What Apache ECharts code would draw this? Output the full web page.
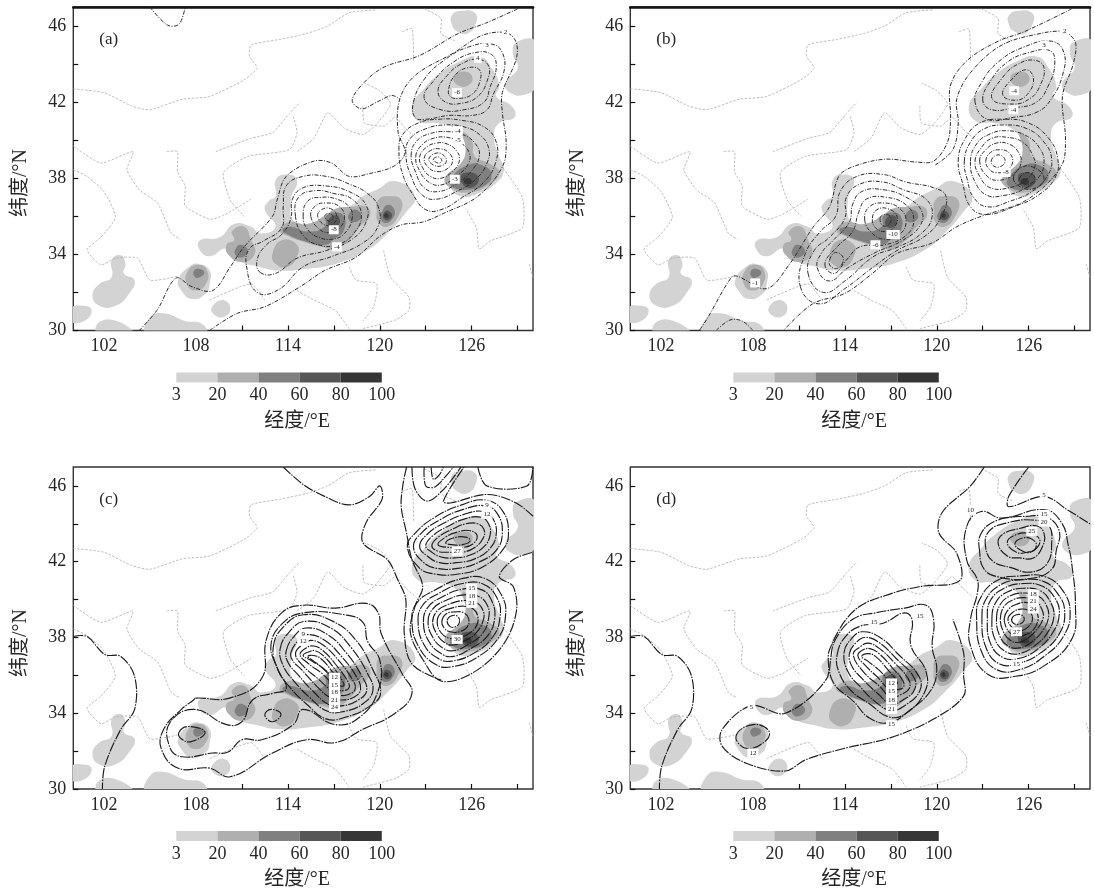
<!DOCTYPE html>
<html><head><meta charset="utf-8">
<style>html,body{margin:0;background:#fff}#c{width:1094px;height:892px;filter:blur(.45px)}</style>
<script src="https://cdn.jsdelivr.net/npm/echarts@6/dist/echarts.min.js"></script></head><body><div id="c"></div>
<script>
const lonTicks=[102,105,108,111,114,117,120,123,126,129], lonLabels=[102,108,114,120,126];
const latTicks=[30,32,34,36,38,40,42,44,46], latLabels=[30,34,38,42,46];
const barLabels=['3','20','40','60','80','100'], barColors=['#d3d3d3','#afafaf','#808080','#565656','#363636'];
const panelTags=['(a)','(b)','(c)','(d)'];
// rainfall shading (lon,lat)
const shade1=[
[[122.1,41.8],[122.9,42.7],[123.9,43.5],[125.1,44.1],[126.5,44.4],[127.3,43.8],[127.8,42.85],[127.6,42.3],[128.6,41.8],[128.8,41.2],[127.8,40.9],[127.45,40.2],[127.8,39.15],[128.1,38.45],[127.6,37.75],[126.4,37.2],[125.3,37.05],[124.6,37.6],[124.8,38.3],[125.7,39.15],[125.5,40],[124.8,40.65],[123.7,40.9],[122.55,41]],
[[128.9,45.15],[130.2,45.15],[130.2,42.9],[129.5,42.4],[128.5,42.5],[128.2,43],[129,43.8],[128.7,44.5]],
[[124.7,46.55],[125.3,46.8],[126.2,46.7],[126.3,46.2],[125.7,45.6],[125,45.75],[124.7,46.1]],
[[108.2,34.3],[108.3,34.75],[109.55,34.9],[110.5,35.6],[111.6,35.45],[112.2,35.1],[113.2,35.45],[112.5,36.35],[112.75,36.8],[113.2,37.05],[113.2,37.9],[113.9,38.2],[114.6,37.9],[114.2,36.85],[114.45,35.7],[115.7,35.6],[116.3,36],[118,36.5],[118.9,37.05],[119.8,37.4],[121,37.85],[122.3,37.05],[121.65,36.15],[120.5,35.1],[119.15,34.2],[117.1,33.5],[115.25,33.25],[113.45,33.15],[112.1,33.35],[110.7,33.7],[110,34.3],[108.9,33.9]],
[[106.85,32.65],[107.55,33.35],[108.2,33.5],[108.9,33.15],[108.9,32.45],[108.65,31.95],[107.75,31.65],[107.05,32.1]],
[[102.5,33.7],[103.1,33.95],[103.4,33.5],[103.3,33],[104,32.65],[103.65,31.95],[102.75,31.3],[101.7,31.3],[101.25,31.85],[101.7,32.45],[102.5,32.8]],
[[99.8,31.15],[100.7,31.3],[101.2,31.05],[100.7,30.5],[99.8,30.5]],
[[109.1,31.3],[109.8,31.6],[110.25,31.15],[109.8,30.7],[109.1,30.9]],
[[101.6,29.8],[101.7,30.45],[103,30.45],[103.9,29.8]],
[[104.8,29.8],[105,30.7],[105.9,30.9],[107.3,30.5],[108.4,30.35],[108.65,29.8]]];
const shade2=[
[[124.8,43.3],[125.4,43.6],[126,43.4],[125.9,42.95],[125.2,42.85]],
[[125.4,40.4],[126,40],[126.2,39.15],[127.1,38.8],[127.8,38.3],[127.1,37.65],[125.75,37.25],[124.6,37.5],[124.25,38],[125.3,38.8],[125.6,39.5]],
[[113.45,35.3],[114.1,35.7],[115.25,35.6],[116.4,36],[117.1,36.4],[118.2,36.5],[119.15,36.5],[119.35,36],[118.7,35.45],[118,34.75],[117.1,34.3],[116.2,34.4],[115.05,34.65],[113.9,35]],
[[113,34.05],[113.65,34.75],[114.6,34.5],[114.6,33.9],[114,33.35],[113.2,33.5]],
[[119.9,36.85],[120.5,37.05],[121.4,36.85],[121.2,36],[120.5,35.45],[119.9,35.7],[119.8,36.3]],
[[110.35,35.2],[111.15,35.45],[111.6,34.75],[111.85,34.05],[111.05,33.6],[110.15,33.95],[110,34.5],[110.5,34.75]],
[[107.5,33.15],[108.2,33.45],[108.75,33.1],[108.65,32.45],[108,32.1],[107.4,32.45]]];
const shade3=[
[[113.65,35.3],[114.2,35.45],[115.25,35.2],[116.4,35.45],[116.5,36],[117.1,36.2],[117.65,36],[117.65,35.25],[117.1,34.85],[116.4,34.5],[115.25,34.65],[114.1,35]],
[[118,36.15],[118.45,36.35],[118.8,36],[118.45,35.7],[118,35.8]],
[[120.15,36.25],[120.5,36.6],[120.95,36.35],[120.85,35.9],[120.4,35.65],[120.05,35.9]],
[[124.6,37.9],[125.75,38.7],[126.9,38.6],[127.3,38.1],[126.9,37.65],[125.75,37.4],[124.85,37.5]],
[[110.6,34.3],[110.95,34.5],[111.4,34.2],[111.05,33.85],[110.6,33.95]],
[[107.85,33.1],[108.2,33.25],[108.55,33.05],[108.25,32.8],[107.95,32.8]]];
const shade4=[
[[116.65,35.8],[117.1,36.05],[117.4,35.8],[117.2,35.45],[116.75,35.45]],
[[120.25,36.15],[120.5,36.3],[120.8,36.05],[120.55,35.8],[120.25,35.9]],
[[125.3,38.1],[125.75,38.3],[126.4,38.1],[126.3,37.65],[125.6,37.55]]];
const shade5=[[[125.5,37.9],[125.85,38],[126,37.75],[125.6,37.7]],[[120.3,36.1],[120.5,36.15],[120.55,35.95],[120.35,35.95]]];
// province and coast boundaries (lon,lat)
const borders=[
[[100,42.7],[102,42.5],[103.8,41.8],[105,41.6],[107.1,42.15],[108.9,42.3],[111.2,43.2],[112,43.8],[111.5,44.4],[111.6,45],[113.5,45.3],[115.2,45.6],[116.6,46],[118,46.7],[119.8,46.85]],
[[100,39.7],[101.8,38.8],[103.9,39.4],[103.5,38.45],[104.3,37.4],[105.5,36.7],[106.4,35.1],[107,34.8]],
[[100,38.45],[100.9,38.1],[102,37.3],[102.75,35.95],[101.8,34.9],[100.9,34.25],[101.8,33.45],[102.75,33.8],[104.2,33.8],[105,32.65],[106.8,32.85]],
[[106.1,39.4],[106.8,39.4],[106.8,38.35],[107.3,37.6],[107.3,36.55],[108.9,35.85],[109.8,36.05],[111.6,36.9]],
[[114.35,41.25],[114.6,40.4],[114.1,39.5],[111.4,39.15],[109.8,38.3],[110.25,36.85],[111.15,36]],
[[109.3,39.4],[111.6,40.1],[113,40.4],[114.1,41.4],[114.8,42]],
[[114.6,39.4],[115.7,40.1],[116.6,41.45],[117.65,40.65],[118.9,40.3],[119.8,40.85],[120.7,41.9],[120,42.6],[119,43]],
[[127.9,38.7],[129.3,37],[129.3,35.4],[127.2,34.7],[126.5,34.3],[126.3,35.4],[125.6,36.4]],
[[121.45,45.7],[122.1,45.85],[122.2,44.1]],[[122.9,46.9],[124,46.4],[124,45.6],[125,45.2]],
[[120.25,34.2],[120.7,32.8],[121.9,31.75],[121.9,31.05],[121,30.55],[118.9,30.1]],
[[118,33.35],[118.45,32.65],[119.8,32.45],[119.6,31.25],[118.9,30.5]],
[[114.6,32.1],[115.7,31.6],[117.1,31.05],[118,30.1]],
[[108.9,31.6],[111.6,32.45],[112.5,31.6]],[[129.75,33.5],[130,32.8]],
[[118.9,41.8],[119,40.9],[120.3,40.75],[121,41.2],[121.7,40.6],[122.4,40.1]]];
// contours, panel (a)
const openA=[
[[104.3,30],[105.45,31.05],[106.7,32.75],[107.75,32.3],[109.1,32.1],[110.25,33.35],[111.15,34.4],[113,36],[113.3,36.85],[113.9,38.1],[115.7,38.9],[116.85,38.8],[118,38.1],[119.35,38.25],[120.95,38.65],[121.65,39.35],[121.2,40.4],[121.3,42.15],[122.3,43.4],[124.85,44.6],[126.65,45.5],[128.25,45.65],[128.9,45.15],[128.9,44.25],[128,42.5],[128,41.45],[128.25,39.85],[128,38.6],[126.4,37.05],[124.15,36.15],[122.8,35.7],[121.4,35.55],[120,34.95],[118.45,33.85],[116.4,33.15],[114.8,32.3],[112.5,31.25],[110.7,30.9],[108.9,30]],
[[129,46.9],[126.9,46.15],[125.1,45.6],[122.6,44.45],[120.3,43.85],[119,43.05],[118.2,42.1],[118.8,41.65],[119.8,42],[120.8,42.35],[121.3,42.15]],
[[105,47],[106.15,46.05],[106.9,46.1],[107.3,47]]];
const ringsA=[
[[121.25,39.5],[121.5,40.3],[122.5,40.9],[123.8,41.1],[125.3,41.05],[126.8,40.7],[127.6,39.9],[127.55,38.8],[126.8,37.8],[125.4,37],[124,36.35],[123,36.35],[122.2,37.1],[121.5,38.2]],
[[121.7,39.3],[122,40.1],[123,40.6],[124.2,40.8],[125.5,40.7],[126.5,40.3],[127.1,39.6],[127,38.8],[126.2,37.9],[125,37.3],[123.7,36.9],[122.8,37.1],[122.1,38]],
[[122.05,39.2],[122.4,39.95],[123.3,40.35],[124.4,40.45],[125.4,40.3],[126.2,39.85],[126.5,39.2],[126,38.4],[125,37.7],[123.8,37.3],[122.9,37.5],[122.35,38.3]],
[[122.35,39.15],[122.75,39.75],[123.5,40.1],[124.4,40.15],[125.2,39.9],[125.8,39.4],[125.8,38.8],[125,38.1],[124,37.65],[123.2,37.8],[122.6,38.4]],
[[122.6,39.1],[123,39.6],[123.7,39.85],[124.4,39.8],[125,39.45],[125.2,38.95],[124.8,38.4],[124,38],[123.3,38.1],[122.8,38.55]],
[[122.9,39.05],[123.3,39.45],[123.9,39.55],[124.5,39.35],[124.75,38.9],[124.4,38.5],[123.8,38.35],[123.2,38.55]],
[[123.2,39],[123.6,39.3],[124.1,39.25],[124.35,38.9],[124,38.65],[123.5,38.7]],
[[123.5,39],[123.85,39.12],[124.05,38.9],[123.8,38.8]],
[[122.2,42],[122.9,43.2],[124.2,44.2],[125.8,44.9],[127.3,45.05],[128,44.6],[128.1,43.6],[127.4,42.4],[127,41.6],[126,41.3],[124.5,41.3],[123,41.1],[122.3,41.2]],
[[122.9,42.2],[123.6,43.2],[124.8,44.1],[126.2,44.6],[127.3,44.5],[127.6,43.8],[127.2,42.8],[126.8,42],[125.5,41.6],[124,41.6]],
[[123.8,42.6],[124.4,43.4],[125.3,44],[126.4,44.25],[127.1,43.9],[127,43.1],[126.4,42.3],[125.4,41.95],[124.3,42]],
[[124.5,42.7],[124.9,43.4],[125.7,43.8],[126.5,43.7],[126.5,43],[126,42.4],[125.2,42.2],[124.6,42.3]],
[[111.3,33.4],[112,32],[113.4,32.15],[115,33.35],[116.9,33.9],[118.9,34.6],[119.9,35.5],[119.9,36.5],[119.2,37.2],[118,37.7],[116.5,38.1],[115,38.1],[113.9,37.6],[113.7,36.5],[113.6,35.4],[112.4,34.7],[111.5,34.3]],
[[112.2,33.05],[113.2,33],[114.6,33.8],[116.5,34.2],[118.2,34.8],[119.1,35.7],[119.1,36.6],[118,37.3],[116.4,37.6],[115,37.5],[114.3,36.9],[114.2,35.9],[113.6,35.05],[112.6,34.5],[112,33.7]],
[[114.5,36],[114.7,37],[115.8,37.35],[117,37.2],[118.2,36.9],[118.8,36.1],[118.3,35.1],[117.2,34.5],[116,34.5],[115,35]],
[[115,36],[115.3,36.8],[116.2,37],[117.2,36.9],[118,36.5],[118.2,35.9],[117.7,35.1],[116.9,34.8],[116,34.9],[115.3,35.3]],
[[115.5,36],[115.8,36.55],[116.5,36.7],[117.3,36.55],[117.7,36],[117.4,35.4],[116.8,35.15],[116.1,35.3]],
[[115.95,36],[116.2,36.35],[116.8,36.4],[117.2,36],[116.95,35.6],[116.4,35.55]],
[[116.4,36],[116.7,36.15],[116.95,35.95],[116.7,35.75]]];
const labelsA=[[125.05,42.5,'-6'],[117,35.3,'-8'],[117.2,34.4,'-4'],[125.1,40.5,'-4'],[125.1,40,'-5'],[124.9,37.95,'-3'],[128.2,45.7,'2'],[127,45,'3'],[126.4,44.3,'4']];
// contours, panel (b)
const openB=[
[[128.8,46.9],[125.7,45.7],[124,45.2],[122,44.2],[120.9,42.9],[120.9,41.1],[120.7,39.9],[119.8,38.9],[118.7,38.85],[116.6,39],[114.5,38.6],[113.6,38.1],[113,36.5],[111.9,35.4],[110.4,33.5],[108.9,32.2],[107,32.85],[106.6,32.8],[105,30.6],[104.5,30]],
[[128.35,45.75],[127,45.65],[124.25,45],[122.2,43.55],[121.3,42.15],[121.4,40.9],[121.05,39.5],[119.9,38.7]],
[[128.35,45.75],[129.05,45.15],[128.9,44],[128.2,42.3],[128.4,40],[128.1,38.6],[125.85,36.85],[122.9,36],[121.3,35.45],[119.7,34.6],[117.4,34.05],[115.8,33],[114,31.95],[111.9,31.4],[110,30]],
[[105.6,30],[106.5,30.55],[107.3,30.5],[108,30]]];
const ringsB=[
[[111.1,32.3],[112.3,31.4],[114,32.2],[115.8,33.3],[117.4,34.2],[119.3,35],[120.3,36],[120.6,37.05],[119.8,37.5],[118,37.8],[116.5,38.2],[114.8,38.1],[113.7,37.3],[113.4,36],[112.4,35.2],[111.4,34]],
[[111.6,33],[112.6,32],[114,32.6],[115.9,33.9],[117.5,34.4],[119,35.1],[119.7,36],[119.3,36.9],[117.8,37.4],[116.5,37.8],[115,37.7],[114.1,37],[114,35.9],[113,34.9],[112,34.2]],
[[112.2,33.3],[113,32.6],[114.2,33.3],[116,34.1],[117.7,34.7],[118.9,35.5],[119,36.3],[118,37],[116.5,37.4],[115.1,37.3],[114.5,36.6],[114.3,35.7],[113.2,34.7],[112.5,34.1]],
[[112.7,33.5],[113.3,33],[114.1,33.7],[115,34.4],[116.6,34.5],[118,35],[118.5,35.8],[118,36.6],[116.7,37],[115.4,36.9],[114.9,36.2],[114.5,35.2],[113.5,34.4]],
[[115.3,35.8],[115.6,36.5],[116.6,36.7],[117.6,36.4],[118,35.7],[117.5,35],[116.6,34.8],[115.8,35.1]],
[[115.8,35.9],[116.1,36.35],[116.8,36.4],[117.4,36],[117.2,35.4],[116.6,35.2],[116,35.4]],
[[116.3,35.9],[116.6,36.1],[117,35.95],[116.9,35.6],[116.5,35.5]],
[[113,33.7],[113.4,34.1],[113.9,33.8],[113.6,33.3],[113.1,33.35]],
[[121.4,38.9],[121.8,40],[122.8,40.9],[124.4,41.1],[126,40.9],[127.3,40.1],[127.9,39],[127.7,38],[126.6,37.1],[125,36.5],[123.2,36.1],[122.2,36.5],[121.7,37.7]],
[[121.8,38.9],[122.2,39.9],[123.1,40.6],[124.4,40.8],[125.9,40.6],[127,39.9],[127.5,39],[127.2,38.1],[126.2,37.3],[124.8,36.8],[123.3,36.5],[122.4,37],[122,37.9]],
[[122.2,38.9],[122.6,39.8],[123.4,40.3],[124.5,40.5],[125.8,40.25],[126.7,39.6],[127,38.8],[126.6,38],[125.6,37.4],[124.4,37.1],[123.3,37.1],[122.5,37.8]],
[[122.5,38.9],[122.9,39.6],[123.6,40.1],[124.6,40.15],[125.6,39.9],[126.2,39.3],[126.4,38.6],[125.8,37.9],[124.7,37.5],[123.5,37.5],[122.8,38.1]],
[[122.8,38.9],[123.2,39.5],[123.9,39.85],[124.7,39.8],[125.3,39.4],[125.5,38.8],[125,38.2],[124.1,37.9],[123.3,38.1]],
[[123.2,38.9],[123.5,39.35],[124.1,39.5],[124.7,39.35],[124.95,38.85],[124.5,38.4],[123.8,38.3],[123.4,38.5]],
[[123.55,38.9],[123.85,39.2],[124.3,39.15],[124.45,38.85],[124.1,38.6],[123.7,38.65]],
[[125,38],[125.6,38.6],[126.5,38.5],[127,38],[126.5,37.5],[125.6,37.5]],
[[125.4,38],[125.9,38.3],[126.4,38.05],[126.1,37.7],[125.6,37.75]],
[[122.5,42],[122.9,43],[124,44.1],[125.7,44.9],[127.5,45.2],[128.3,44.6],[128.2,43.4],[127.5,42.2],[126.6,41.5],[125,41.2],[123.3,41.1]],
[[123,42.1],[123.5,43.1],[124.6,44.1],[126,44.6],[127.4,44.7],[127.7,44],[127.3,42.9],[126.5,42],[125,41.7],[123.6,41.6]],
[[123.6,42.2],[124.3,43.3],[125.3,44],[126.4,44.2],[127,43.8],[126.7,42.8],[126.1,42.2],[125,41.9]],
[[124.3,42.4],[124.9,43.2],[125.8,43.7],[126.3,43.3],[126,42.5],[125.2,42.1]]];
const labelsB=[[117.15,35.05,'-10'],[116,34.5,'-6'],[125.05,42.6,'-4'],[108.15,32.5,'-1'],[125,41.6,'-4'],[124.5,38.3,'-8'],[128.35,45.75,'2'],[127,45,'3']];
// contours, panel (c)
const westLine=[[100,38.05],[100.9,38.05],[102.05,37.1],[103.1,37],[104,35.95],[104,34.2],[103.1,33.15],[102.05,31.2],[101.9,30]];
const openC=[westLine,
[[113.7,47],[115.05,46.05],[116.4,45.45],[118,45],[119.35,45.45],[120,46],[120.15,45.3],[119.1,44.05],[118.9,43],[120.5,42.1],[121.2,41],[121.7,40],[121.6,38.2],[122.1,36.6],[124,35.75]],
[[121.75,47],[121.5,46],[121.4,44.9],[121.75,43.5],[122.1,42.1],[122.8,40.7],[122.3,39.65],[122,38.25],[122.8,36.85],[124,35.7],[126,36.1],[128,37.55],[128.9,39.3],[128.7,40.7],[127.8,41.2],[128.7,42.1],[130,42.5]],
[[130,44.4],[128.9,45.1],[127,45.55],[124.6,45.1],[124.15,45.2],[125.5,47]],
[[122.1,47],[122.3,45.85],[123.1,45.2],[124.2,45.85],[125.3,47]],
[[122.9,47],[123,46],[123.6,45.95],[124.4,46.6],[124.8,47]],
[[123.35,47],[123.5,46.35],[123.9,46.6],[124.15,47]],
[[126.4,47],[127,46],[129.6,46],[130,47]]];
const ringsC=[
[[108,34.8],[110.2,34.8],[112.3,35.85],[112.6,37.9],[113.6,39.3],[114.95,39.7],[117.1,39.55],[119.1,39.8],[119.9,39.3],[120.1,38.2],[121.45,36.1],[122.1,35.05],[121,34],[118.9,33.15],[117.1,32.45],[115.25,32.6],[113,31.9],[110.25,30.65],[108.9,31.1],[106.85,31.1],[105.75,32.1],[105.9,33.15],[107.05,34.2],[107.85,34.7]],
[[107.9,34.2],[106.3,33.5],[106.3,32.2],[107.1,31.7],[109.1,31.9],[110.1,31.95],[111,32.6],[112.3,32.6],[114.35,33.4],[115,34.2],[117.1,33.4],[118.7,33.8],[119.9,35.2],[120,36.8],[119.2,37.8],[118.9,38.8],[117.7,39.2],[115,39.3],[113.6,38.7],[112.9,37.6],[113.3,36.4],[113.9,35.3],[113,35.05],[111.7,34.7],[111,33.55],[110,33.4]],
[[113.05,37.5],[113.7,38.55],[115,39.2],[116.95,38.85],[118.45,37.85],[119.55,36.3],[120.05,35.05],[119.3,34.35],[117.8,33.8],[116.5,33.7],[115.2,34.5],[114.1,35.4],[113.35,36.3]],
[[113.5,37.4],[114.1,38.3],[115.1,38.85],[116.8,38.5],[118.1,37.5],[119.2,36.1],[119.55,35.2],[118.9,34.5],[117.7,34.1],[116.6,34.1],[115.4,34.85],[114.4,35.7],[113.7,36.5]],
[[113.9,37.3],[114.4,38.05],[115.2,38.5],[116.6,38.15],[117.8,37.2],[118.8,36],[119.15,35.2],[118.6,34.7],[117.6,34.4],[116.7,34.45],[115.6,35.2],[114.7,36],[114,36.7]],
[[114.2,37.2],[114.7,37.85],[115.3,38.15],[116.4,37.85],[117.5,37],[118.5,35.9],[118.75,35.25],[118.3,34.85],[117.5,34.7],[116.8,34.8],[115.8,35.5],[114.9,36.3],[114.3,36.8]],
[[114.5,37.15],[115,37.65],[115.5,37.85],[116.3,37.6],[117.3,36.8],[118.2,35.8],[118.4,35.3],[118,35],[117.4,34.95],[116.9,35.15],[116,35.8],[115,36.5]],
[[114.8,37.1],[115.2,37.45],[115.7,37.55],[116.3,37.3],[117.1,36.6],[117.9,35.7],[118,35.35],[117.7,35.2],[117.3,35.25],[116.3,36.05],[115.3,36.65]],
[[115,37.05],[115.4,37.25],[115.8,37.3],[116.3,37.05],[117,36.4],[117.6,35.65],[117.65,35.45],[117.3,35.5],[116.5,36.25],[115.6,36.75]],
[[115.3,37],[115.7,37.05],[116.2,36.85],[116.9,36.2],[117.3,35.7],[116.9,35.9],[116.1,36.5],[115.6,36.8]],
[[112.5,33.9],[112.9,34.2],[113.55,33.95],[113,33.55]],
[[106.9,33],[107.5,33.3],[108.6,33],[107.7,32.5],[107.05,32.65]],
[[121.8,42.8],[122.3,43.5],[123.6,44.35],[125.35,45],[126.9,45.25],[128,44.7],[128.4,43.5],[128,42.6],[126.65,41.7],[125.15,41.35],[123.6,41.35],[122.55,41.7]],
[[122.2,42.8],[122.7,43.5],[123.9,44.2],[125.4,44.75],[126.9,44.95],[127.7,44.5],[128,43.5],[127.6,42.6],[126.4,41.95],[125.1,41.65],[123.7,41.65],[122.8,42]],
[[122.6,42.8],[123.1,43.45],[124.1,44],[125.5,44.5],[126.8,44.65],[127.4,44.25],[127.6,43.45],[127.2,42.7],[126.2,42.15],[125,41.95],[123.9,41.95],[123.1,42.3]],
[[123,42.85],[123.5,43.4],[124.4,43.85],[125.5,44.25],[126.6,44.35],[127.1,44],[127.2,43.4],[126.8,42.8],[125.9,42.35],[124.9,42.2],[124,42.25],[123.4,42.5]],
[[123.4,42.85],[123.9,43.35],[124.7,43.7],[125.6,44],[126.4,44],[126.8,43.7],[126.75,43.25],[126.2,42.75],[125.4,42.5],[124.5,42.5],[123.8,42.55]],
[[123.8,42.9],[124.3,43.3],[125,43.55],[125.8,43.65],[126.35,43.4],[126.1,42.95],[125.4,42.75],[124.6,42.75]],
[[124.3,43],[124.8,43.25],[125.6,43.3],[125.9,43.1],[125.4,42.9],[124.7,42.9]],
[[122.1,38.8],[122.4,39.8],[123.6,40.5],[125.35,41.1],[126.9,41.1],[128,40.15],[128.2,39.1],[127.75,38],[126.45,37],[124.7,36.45],[123.6,36.6],[122.55,37.5]],
[[122.5,38.8],[122.8,39.7],[123.9,40.35],[125.4,40.85],[126.8,40.8],[127.7,40],[127.85,39.1],[127.4,38.05],[126.2,37.2],[124.7,36.75],[123.8,36.9],[122.9,37.6]],
[[122.85,38.8],[123.15,39.6],[124.1,40.15],[125.4,40.55],[126.7,40.5],[127.35,39.85],[127.5,39],[127.05,38.1],[126,37.45],[124.8,37],[124,37.15],[123.2,37.8]],
[[123.15,38.8],[123.45,39.5],[124.3,39.95],[125.5,40.25],[126.5,40.15],[127.05,39.65],[127.1,39],[126.7,38.2],[125.8,37.65],[124.8,37.3],[124.1,37.45],[123.5,37.95]],
[[123.45,38.8],[123.75,39.4],[124.5,39.75],[125.5,39.95],[126.3,39.85],[126.75,39.4],[126.75,38.9],[126.3,38.25],[125.6,37.85],[124.8,37.6],[124.2,37.75],[123.75,38.15]],
[[123.75,38.85],[124,39.3],[124.7,39.55],[125.5,39.65],[126.1,39.5],[126.4,39.1],[126.3,38.6],[125.8,38.2],[125.2,38],[124.6,37.95],[124,38.25]],
[[124.05,38.85],[124.35,39.25],[124.95,39.35],[125.5,39.3],[125.8,39],[125.7,38.55],[125.2,38.3],[124.6,38.3],[124.2,38.5]],
[[124.4,38.9],[124.7,39.15],[125.1,39.1],[125.2,38.8],[124.9,38.55],[124.55,38.6]]];
const labelsC=[[117.05,35.9,'12'],[117.05,35.5,'15'],[117.05,35.1,'18'],[117.05,34.7,'21'],[117.05,34.3,'24'],[126,40.6,'15'],[126,40.2,'18'],[126,39.8,'21'],[125.05,42.55,'27'],[125.05,37.9,'30'],[127,45,'9'],[127,44.5,'12'],[115,38.2,'9'],[115,37.8,'12']];
// contours, panel (d)
const openD=[westLine,
[[123.1,47],[122.2,46],[120.35,44.6],[120.15,43.5],[121.3,42.45],[121.5,41],[119,40.7],[117.15,40.35],[114.65,39.45],[113,37.35],[112.8,35.8],[110.1,34],[107.9,34.4],[106,33.15],[106,32.25],[107.6,31.35],[110.1,30.95],[111.45,31.55],[114,32.15],[116.95,32.7],[119.7,33.65],[121.75,34.9],[121.75,36],[121.75,37.2],[121.05,38.95]],
[[126,47],[124.7,45.45],[124.7,44.9],[127,45.45],[128.6,44.7],[130,44]]];
const ringsD=[
[[121.95,43.85],[122.9,44.65],[124.25,44.3],[127,44.75],[128.15,44.05],[128.6,42.8],[128.8,41.95],[129.05,39.65],[128.8,37.9],[127,36.5],[125.15,35.95],[123.35,36.05],[122.2,37.55],[122.2,38.95],[122.65,40.35],[122.65,41.05],[121.95,42.1]],
[[122.8,42.5],[122.9,43.5],[124,44.2],[126,44.4],[127.2,44.35],[128,43.6],[127.8,42.6],[127.5,41.6],[126,41.1],[124,41.2],[123.1,41.6]],
[[123.2,42.7],[123.4,43.6],[124.6,44.05],[126.2,44.2],[127.3,43.9],[127.5,43],[127.2,41.9],[126.1,41.45],[124.8,41.7],[123.7,42]],
[[124,43],[124.4,43.5],[125.4,43.75],[126.5,43.9],[127,43.5],[126.9,42.8],[126.3,42.2],[125.4,42.2],[124.6,42.3]],
[[124.6,43],[125.1,43.4],[126,43.5],[126.7,43.2],[126.5,42.7],[125.9,42.5],[125.2,42.5]],
[[125.1,42.95],[125.6,43.25],[126.2,43.2],[126.5,42.85],[126.1,42.5],[125.5,42.6]],
[[122.6,39],[122.8,40],[123.9,41],[125.5,41.25],[127.1,41.2],[128.2,40.5],[128.7,39.4],[128.3,38.1],[127,37],[125.4,36.3],[123.9,36.3],[122.9,37.3]],
[[122.95,39],[123.2,40],[124.2,40.8],[125.6,41.05],[127,40.95],[127.9,40.3],[128.35,39.4],[128,38.2],[126.8,37.2],[125.4,36.65],[124.1,36.6],[123.2,37.5]],
[[123.3,39],[123.5,39.95],[124.4,40.6],[125.7,40.85],[126.9,40.7],[127.7,40.1],[128,39.3],[127.6,38.3],[126.6,37.4],[125.4,36.9],[124.3,36.95],[123.5,37.7]],
[[123.6,39],[123.85,39.85],[124.6,40.4],[125.7,40.6],[126.8,40.45],[127.4,39.9],[127.65,39.2],[127.3,38.35],[126.45,37.6],[125.4,37.15],[124.5,37.25],[123.8,37.9]],
[[123.9,39],[124.15,39.75],[124.8,40.2],[125.7,40.35],[126.6,40.2],[127.15,39.7],[127.3,39.1],[126.95,38.4],[126.25,37.8],[125.4,37.45],[124.65,37.55],[124.1,38.1]],
[[124.15,39],[124.4,39.65],[125,40],[125.75,40.1],[126.45,39.95],[126.85,39.5],[126.95,39.05],[126.6,38.5],[126,38],[125.4,37.75],[124.8,37.85],[124.35,38.3]],
[[124.4,39],[124.7,39.5],[125.2,39.75],[125.8,39.85],[126.3,39.7],[126.55,39.3],[126.6,38.9],[126.3,38.4],[125.8,38.15],[125.3,38.05],[124.85,38.2],[124.55,38.5]],
[[124.65,39],[125,39.35],[125.5,39.5],[126,39.4],[126.25,39],[125.95,38.55],[125.4,38.35],[124.9,38.55]],
[[124.9,39],[125.2,39.2],[125.6,39.15],[125.7,38.9],[125.4,38.7],[125,38.75]],
[[113.1,37],[113.5,38.05],[114.6,39],[116,39.3],[117.9,39.55],[119.3,39.7],[119.8,38.9],[119.7,37.5],[120,36.3],[119.6,35.2],[118.3,34.2],[116.9,33.5],[115.6,33.75],[114.6,34.6],[113.2,35.7]],
[[113.5,37.1],[114,38],[115,38.6],[116.5,38.75],[117.9,39.3],[118.4,38.9],[118.3,37.6],[119.3,36.2],[119.2,35.1],[118,34],[116.9,33.8],[115.6,34.5],[114.4,35.2],[113.6,36.2]],
[[113.95,37.2],[114.4,37.9],[115.1,38.3],[116.3,38],[117.5,37.1],[118.8,36],[118.9,35.2],[118,34.45],[117,34.15],[116,34.6],[115,35.4],[114.2,36.2]],
[[114.3,37.15],[114.7,37.7],[115.3,38],[116.2,37.75],[117.4,36.85],[118.5,35.9],[118.55,35.25],[117.9,34.75],[117,34.5],[116.2,35],[115.1,35.85],[114.45,36.5]],
[[114.55,37.1],[115,37.5],[115.5,37.7],[116.2,37.45],[117.2,36.7],[118.15,35.8],[118.2,35.3],[117.7,35],[117,34.85],[116.3,35.4],[115.2,36.2]],
[[114.85,37.05],[115.2,37.35],[115.7,37.4],[116.3,37.1],[117.1,36.4],[117.8,35.7],[117.8,35.35],[117.4,35.25],[116.9,35.25],[116.2,35.85],[115.3,36.55]],
[[115.1,37],[115.5,37.15],[116,37],[116.8,36.3],[117.45,35.6],[117.1,35.6],[116.2,36.3],[115.5,36.75]],
[[106.9,32.8],[108,33.4],[109.05,33.05],[108.7,32.45],[107.55,32.15]]];
const labelsD=[[117.05,35.6,'12'],[117.05,35.15,'15'],[117.05,34.7,'18'],[117.05,34.2,'21'],[117.05,33.4,'15'],[126.3,40.3,'18'],[126.3,39.9,'21'],[126.3,39.5,'24'],[125.2,38.3,'27'],[125.2,36.6,'15'],[127,45.5,'5'],[122.2,44.7,'10'],[127,44.5,'15'],[127,44.1,'20'],[126.2,43.6,'25'],[118.9,39.1,'15'],[115.9,38.8,'15'],[107.9,34.3,'5'],[108,31.9,'12']];
const openSets=[openA,openB,openC,openD], ringSets=[ringsA,ringsB,ringsC,ringsD], labelSets=[labelsA,labelsB,labelsC,labelsD];

const frames=[{l:73.3,t:7,h:323.5},{l:630.3,t:7,h:323.5},{l:73.3,t:467,h:322},{l:630.3,t:467,h:322}];
const W=459.7, serif='"Liberation Serif","Noto Sans CJK SC",serif', ink='#262626';
const titleFont='20px "Liberation Serif","Noto Sans CJK SC"';
const grids=[],xAxes=[],yAxes=[],series=[],graphics=[];

function paths(i,list,closed,style,z,smooth){
  series.push({type:'custom',xAxisIndex:i,yAxisIndex:i,clip:true,z,silent:true,animation:false,
    data:list.map(p=>p[0]),
    renderItem:(params,api)=>({type:closed?'polygon':'polyline',
      shape:{points:list[params.dataIndex].map(p=>api.coord(p)),smooth},style})});
}
frames.forEach((f,i)=>{
  grids.push({left:f.l,top:f.t,width:W,height:f.h,show:true,backgroundColor:'#fff',borderColor:'#333',borderWidth:1.4});
  xAxes.push({type:'value',gridIndex:i,min:100,max:130,position:'bottom',splitLine:{show:false},axisLine:{show:false},
    axisTick:{show:true,inside:true,length:5,lineStyle:{color:'#111',width:1.2},customValues:lonTicks},
    axisLabel:{customValues:lonLabels,color:ink,fontFamily:serif,fontSize:18,margin:7}});
  yAxes.push({type:'value',gridIndex:i,min:30,max:47,splitLine:{show:false},axisLine:{show:false},
    axisTick:{show:true,inside:true,length:5,lineStyle:{color:'#111',width:1.2},customValues:latTicks},
    axisLabel:{customValues:latLabels,color:ink,fontFamily:serif,fontSize:18,margin:7}});
  [shade1,shade2,shade3,shade4,shade5].forEach((s,k)=>paths(i,s,true,{fill:barColors[k],stroke:null},2+k,.5));
  paths(i,borders,false,{fill:null,stroke:'#b5b5b5',lineWidth:.9,lineDash:[2.5,1.5]},8,.2);
  const st=i<2?{fill:null,stroke:'#2a2a2a',lineWidth:1,lineDash:[4,1.5,1,1.5]}:{fill:null,stroke:'#1c1c1c',lineWidth:1.15,lineDash:[10,1.2,1.5,1.2]};
  paths(i,openSets[i],false,st,9,.35);
  paths(i,ringSets[i],true,st,9,.45);
  const labs=labelSets[i];
  series.push({type:'custom',xAxisIndex:i,yAxisIndex:i,clip:true,z:10,silent:true,animation:false,data:labs.map(a=>[a[0],a[1]]),
    renderItem:(p,api)=>{const c=api.coord([api.value(0),api.value(1)]);
      return {type:'text',style:{x:c[0],y:c[1],text:labs[p.dataIndex][2],fill:'#222',font:'7px '+serif,align:'center',verticalAlign:'middle',backgroundColor:'#fff',padding:[1,2]}};}});
  graphics.push({type:'text',left:f.l+26,top:f.t+24,style:{text:panelTags[i],fill:ink,font:'17px '+serif}});
  graphics.push({type:'text',left:f.l+191,top:f.t+f.h+81,style:{text:'经度/°E',fill:ink,font:titleFont}});
  graphics.push({type:'text',x:f.l-53,y:f.t+176,rotation:Math.PI/2,originX:0,originY:0,style:{text:'纬度/°N',fill:ink,font:titleFont,align:'center',verticalAlign:'middle'}});
});
// colour bars on their own small grids
frames.forEach((f,i)=>{
  const g=grids.length;
  grids.push({left:f.l+103,top:f.t+f.h+42,width:205.5,height:10});
  xAxes.push({type:'value',gridIndex:g,min:0,max:5,interval:1,splitLine:{show:false},axisLine:{show:false},axisTick:{show:false},
    axisLabel:{color:ink,fontFamily:serif,fontSize:18,margin:4,formatter:v=>barLabels[v]}});
  yAxes.push({type:'value',gridIndex:g,min:0,max:1,show:false});
  series.push({type:'custom',xAxisIndex:g,yAxisIndex:g,silent:true,animation:false,data:barColors.map((c,k)=>[k,k+1]),
    renderItem:(p,api)=>{const a=api.coord([api.value(0),0]),b=api.coord([api.value(1),1]);
      return {type:'rect',shape:{x:a[0],y:b[1],width:b[0]-a[0],height:a[1]-b[1]},style:{fill:barColors[p.dataIndex]}};}});
});
// heavier top edge on the upper two panels
[0,1].forEach(i=>xAxes.push({type:'value',gridIndex:i,position:'top',min:100,max:130,splitLine:{show:false},axisLabel:{show:false},axisTick:{show:false},axisLine:{show:true,lineStyle:{color:'#111',width:2.5}}}));
const chart=echarts.init(document.getElementById('c'),null,{renderer:'canvas'});
chart.setOption({animation:false,backgroundColor:'#fff',grid:grids,xAxis:xAxes,yAxis:yAxes,series,graphic:graphics});
</script></body></html>
